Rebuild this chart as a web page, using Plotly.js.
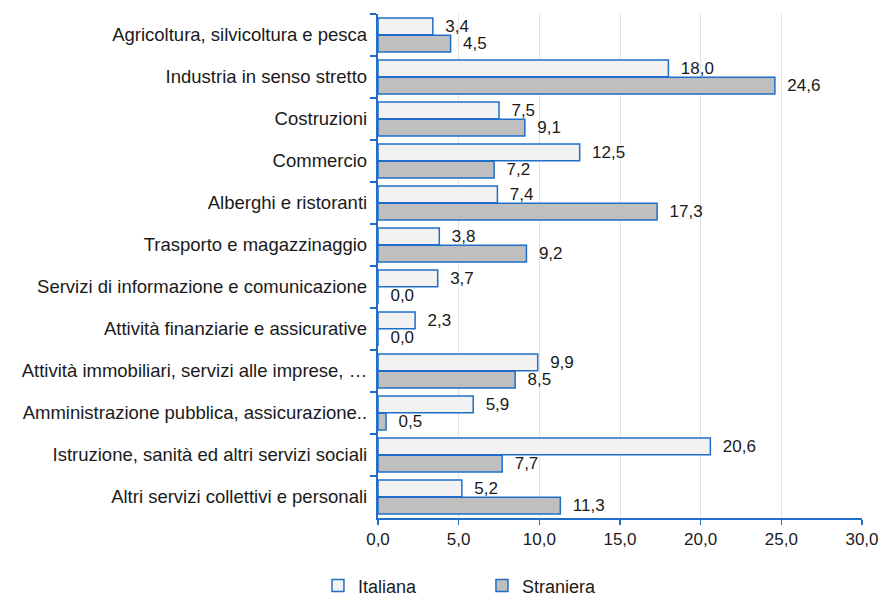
<!DOCTYPE html>
<html><head><meta charset="utf-8">
<script src="https://cdn.plot.ly/plotly-3.0.1.min.js"></script>
<style>html,body{margin:0;padding:0;background:#fff}#c{width:882px;height:596px}</style>
</head><body><div id="c"></div>
<script>
const categories = [
  "Agricoltura, silvicoltura e pesca",
  "Industria in senso stretto",
  "Costruzioni",
  "Commercio",
  "Alberghi e ristoranti",
  "Trasporto e magazzinaggio",
  "Servizi di informazione e comunicazione",
  "Attività finanziarie e assicurative",
  "Attività immobiliari, servizi alle imprese, …",
  "Amministrazione pubblica, assicurazione..",
  "Istruzione, sanità ed altri servizi sociali",
  "Altri servizi collettivi e personali"
];
const italiana = [3.4, 18.0, 7.5, 12.5, 7.4, 3.8, 3.7, 2.3, 9.9, 5.9, 20.6, 5.2];
const straniera = [4.5, 24.6, 9.1, 7.2, 17.3, 9.2, 0.0, 0.0, 8.5, 0.5, 7.7, 11.3];
const xTicks = [0, 5, 10, 15, 20, 25, 30];

const blue = '#1F6FC8';
const font = {family: 'Liberation Sans, Arial, sans-serif', size: 17, color: '#1a1a1a'};
const catFont = {family: 'Liberation Sans, Arial, sans-serif', size: 18.5, color: '#1a1a1a'};

const common = {
  type: 'bar', orientation: 'h', y: categories,
  texttemplate: '  %{x:.1f}', textposition: 'outside', cliponaxis: false,
  constraintext: 'none', textfont: font, hoverinfo: 'skip'
};
const data = [
  Object.assign({}, common, {name: 'Italiana', x: italiana,
    marker: {color: '#F2F2F2', line: {color: blue, width: 1.5}}}),
  Object.assign({}, common, {name: 'Straniera', x: straniera,
    marker: {color: '#BFBFBF', line: {color: blue, width: 1.5}}})
];
const layout = {
  width: 882, height: 596,
  margin: {l: 378, r: 20, t: 14, b: 78},
  font: font,
  separators: ',.',
  barmode: 'group', bargap: 0.18, bargroupgap: 0.03,
  paper_bgcolor: '#fff', plot_bgcolor: '#fff',
  showlegend: true,
  legend: {orientation: 'h', xref: 'container', yref: 'container', x: 0.3605, xanchor: 'left',
    y: 0.048, yanchor: 'top', entrywidth: 119, font: {family: font.family, size: 18, color: '#1a1a1a'},
    traceorder: 'normal', itemwidth: 30},
  xaxis: {range: [0, 30], tickvals: xTicks, ticktext: xTicks.map(v => v.toFixed(1).replace('.', ',')),
    showgrid: true, gridcolor: '#E3E3E3', gridwidth: 1, zeroline: false,
    showline: true, linecolor: blue, linewidth: 2,
    ticks: 'outside', ticklen: 5, tickcolor: blue, tickwidth: 1.5, tickfont: font},
  yaxis: {autorange: 'reversed', type: 'category', showgrid: false, zeroline: false,
    showline: true, linecolor: blue, linewidth: 2,
    ticks: 'outside', tickson: 'boundaries', ticklen: 6, tickcolor: blue, tickwidth: 1.5,
    ticksuffix: ' ', tickfont: catFont}
};
Plotly.newPlot('c', data, layout, {displayModeBar: false, staticPlot: true});
</script></body></html>
